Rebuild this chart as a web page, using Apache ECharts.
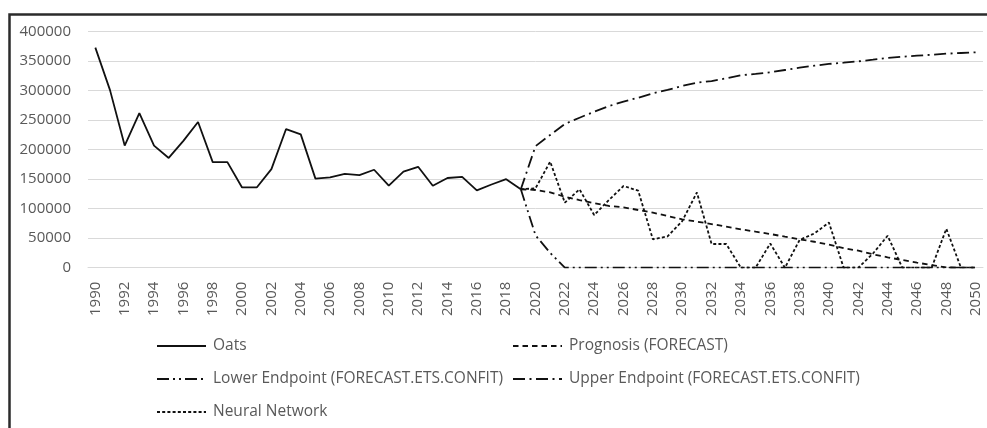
<!DOCTYPE html>
<html>
<head>
<meta charset="utf-8">
<script src="https://cdn.jsdelivr.net/npm/echarts@6/dist/echarts.min.js"></script>
<style>
  html, body { margin: 0; padding: 0; background: #fff; }
  #chart { width: 987px; height: 428px; }
</style>
</head>
<body>
<div id="chart"></div>
<script>
// Category axis: one entry per year
const years = [
  '1990','1991','1992','1993','1994','1995','1996','1997','1998','1999',
  '2000','2001','2002','2003','2004','2005','2006','2007','2008','2009',
  '2010','2011','2012','2013','2014','2015','2016','2017','2018','2019',
  '2020','2021','2022','2023','2024','2025','2026','2027','2028','2029',
  '2030','2031','2032','2033','2034','2035','2036','2037','2038','2039',
  '2040','2041','2042','2043','2044','2045','2046','2047','2048','2049',
  '2050'
];

// Observed oats values, 1990-2019
const oats = [
  373000, 301000, 207000, 262000, 207000, 186000, 215000, 247000, 179000, 179000,
  136000, 136000, 167000, 235000, 226000, 151000, 153000, 159000, 157000, 166000,
  139000, 163000, 171000, 139000, 152000, 154000, 131000, 141000, 150000, 133000
];

// Projections, 2019-2050
const prognosis = [
  133000, 131700, 127800, 120300, 114700, 109200, 104600, 102400, 97800, 93200,
  87600, 82000, 78000, 74000, 69500, 65100, 61000, 57100, 52500, 48100,
  44000, 39000, 33000, 28800, 22700, 17600, 13000, 8500, 4500, 500,
  0, 0
];
const lowerEndpoint = [
  133000, 55000, 25000, 0, 0, 0, 0, 0, 0, 0,
  0, 0, 0, 0, 0, 0, 0, 0, 0, 0,
  0, 0, 0, 0, 0, 0, 0, 0, 0, 0,
  0, 0
];
const upperEndpoint = [
  133000, 206000, 225000, 243600, 254200, 264400, 274000, 281400, 288100, 295600,
  301200, 308000, 313600, 316400, 321000, 326100, 328500, 331200, 335100, 339000,
  342400, 345300, 347500, 349800, 352500, 355400, 357600, 359300, 361000, 362700,
  363900, 365100
];
const neuralNetwork = [
  133000, 134500, 179700, 110200, 132900, 89300, 114700, 138500, 130500, 48100,
  53000, 79000, 127500, 40200, 40200, 0, 0, 41000, 0, 47000,
  58000, 76500, 0, 0, 24000, 54200, 0, 0, 0, 66000,
  0, 0
];

const yTicks = { min: 0, max: 400000, interval: 50000 };

const projectionStart = years.indexOf('2019');
const padFront = arr => new Array(projectionStart).fill(null).concat(arr);
const padBack = arr => arr.concat(new Array(years.length - arr.length).fill(null));

const FONT = "'Open Sans', 'Liberation Sans', sans-serif";
const TEXT = '#595959';
const INK = '#111';

const seriesDefs = [
  { name: 'Oats', data: padBack(oats), dash: 'solid' },
  { name: 'Prognosis (FORECAST)', data: padFront(prognosis), dash: [5.5, 4] },
  { name: 'Lower Endpoint (FORECAST.ETS.CONFIT)', data: padFront(lowerEndpoint), dash: [12, 4, 2, 4, 2, 4] },
  { name: 'Upper Endpoint (FORECAST.ETS.CONFIT)', data: padFront(upperEndpoint), dash: [12, 4.5, 2, 4.5] },
  { name: 'Neural Network', data: padFront(neuralNetwork), dash: [3, 2.2] }
];

// Legend slots: [series name, left, vertical centre]
const legendSlots = [
  ['Oats', 156, 348],
  ['Prognosis (FORECAST)', 512, 348],
  ['Lower Endpoint (FORECAST.ETS.CONFIT)', 156, 381],
  ['Upper Endpoint (FORECAST.ETS.CONFIT)', 512, 381],
  ['Neural Network', 156, 414]
];

const chart = echarts.init(document.getElementById('chart'), null, { renderer: 'canvas' });

chart.setOption({
  animation: false,
  backgroundColor: '#fff',
  textStyle: { fontFamily: FONT },
  grid: { left: 88, right: 4, top: 31.7, height: 236, containLabel: false },
  xAxis: {
    type: 'category',
    data: years,
    boundaryGap: true,
    axisLine: { show: true, lineStyle: { color: '#d9d9d9', width: 1 } },
    axisTick: { show: false },
    axisLabel: {
      interval: 1,
      rotate: 90,
      margin: 14,
      color: TEXT,
      fontFamily: FONT,
      fontSize: 15
    },
    splitLine: { show: false }
  },
  yAxis: {
    type: 'value',
    min: yTicks.min,
    max: yTicks.max,
    interval: yTicks.interval,
    axisLine: { show: false },
    axisTick: { show: false },
    axisLabel: {
      margin: 17,
      color: TEXT,
      fontFamily: FONT,
      fontSize: 15,
      formatter: v => String(v)
    },
    splitLine: { lineStyle: { color: '#d9d9d9', width: 1 } }
  },
  legend: legendSlots.map(([name, left, cy]) => ({
    data: [name],
    left: left,
    top: cy - 10,
    padding: 0,
    itemWidth: 49,
    itemHeight: 14,
    itemGap: 0,
    selectedMode: false,
    itemStyle: { opacity: 0 },
    textStyle: { color: TEXT, fontFamily: FONT, fontSize: 15.5, padding: [0, 0, 0, 2] }
  })),
  series: seriesDefs.map(s => ({
    name: s.name,
    type: 'line',
    data: s.data,
    symbol: 'none',
    showSymbol: false,
    smooth: false,
    connectNulls: false,
    color: INK,
    lineStyle: { color: INK, width: 1.8, type: s.dash },
    emphasis: { disabled: true }
  })),
  graphic: [{
    type: 'rect',
    shape: { x: 9.5, y: 14.5, width: 1100, height: 600 },
    style: { fill: 'none', stroke: '#2b2b2b', lineWidth: 2.5 },
    silent: true,
    z: 100
  }]
});
</script>
</body>
</html>
